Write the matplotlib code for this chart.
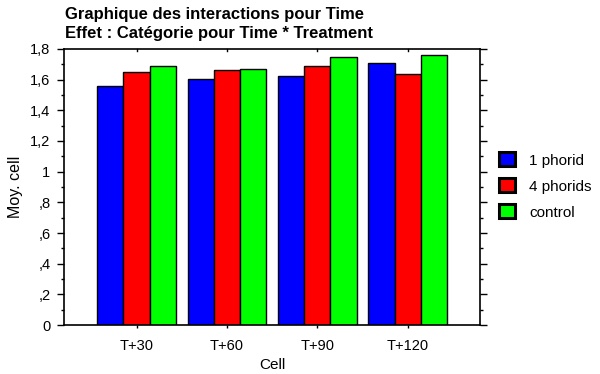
import numpy as np
import matplotlib
matplotlib.use('Agg')
import matplotlib.pyplot as plt
from matplotlib.patches import Rectangle
from matplotlib.ticker import MultipleLocator

plt.rcParams['font.family'] = ['Liberation Sans', 'DejaVu Sans']

# Données
categories = ['T+30', 'T+60', 'T+90', 'T+120']
one_phorid = [1.557, 1.603, 1.622, 1.707]
four_phorids = [1.652, 1.661, 1.690, 1.635]
control = [1.690, 1.670, 1.746, 1.763]
series_labels = ['1 phorid', '4 phorids', 'control']
yticks = [0, 0.2, 0.4, 0.6, 0.8, 1.0, 1.2, 1.4, 1.6, 1.8]
ytick_labels = ['0', ',2', ',4', ',6', ',8', '1', '1,2', '1,4', '1,6', '1,8']

colors = ['#0000ff', '#ff0000', '#00ff00']
series = [one_phorid, four_phorids, control]

fig = plt.figure(figsize=(6, 3.74), dpi=100)
ax = fig.add_axes([0.107, 0.131, 0.693, 0.738])

x = np.arange(len(categories))
w = 0.29
for k, (vals, col) in enumerate(zip(series, colors)):
    ax.bar(x + (k - 1) * w, vals, width=w, color=col, edgecolor='black', linewidth=1.0)

ax.set_xlim(-0.8, 3.8)
ax.set_ylim(0, 1.8)
ax.set_xticks(x)
ax.set_xticklabels(categories, fontsize=10.5)
ax.set_yticks(yticks)
ax.set_yticklabels(ytick_labels, fontsize=10.5)
ax.yaxis.set_minor_locator(MultipleLocator(0.1))

ax.tick_params(axis='y', which='major', direction='out', length=5, width=1,
               left=True, right=True, pad=5)
ax.tick_params(axis='y', which='minor', direction='out', length=2.5, width=1,
               left=True, right=True)
ax.tick_params(axis='x', which='major', direction='out', length=2, width=1,
               top=False, bottom=True, pad=8)
# petits repères en haut
for xi in x:
    ax.plot([xi, xi], [1.8, 1.788], color='black', linewidth=1, clip_on=False)

for sp in ax.spines.values():
    sp.set_linewidth(1.2)

ax.set_ylabel('Moy. cell', fontsize=11.5, labelpad=5)
ax.set_xlabel('Cell', fontsize=11, labelpad=4)

fig.text(0.108, 0.9505, 'Graphique des interactions pour Time', fontsize=12,
         fontweight='bold', ha='left', va='baseline')
fig.text(0.108, 0.899, 'Effet : Catégorie pour Time * Treatment', fontsize=12,
         fontweight='bold', ha='left', va='baseline')

handles = [Rectangle((0, 0), 1, 1, facecolor=c, edgecolor='black', linewidth=2.2)
           for c in colors]
fig.legend(handles, series_labels, loc='center left', bbox_to_anchor=(0.832, 0.503),
           frameon=False, fontsize=11, handlelength=1.05, handleheight=1.05,
           handletextpad=0.9, labelspacing=0.7, borderpad=0, borderaxespad=0)

fig.savefig('out.png', dpi=100)
